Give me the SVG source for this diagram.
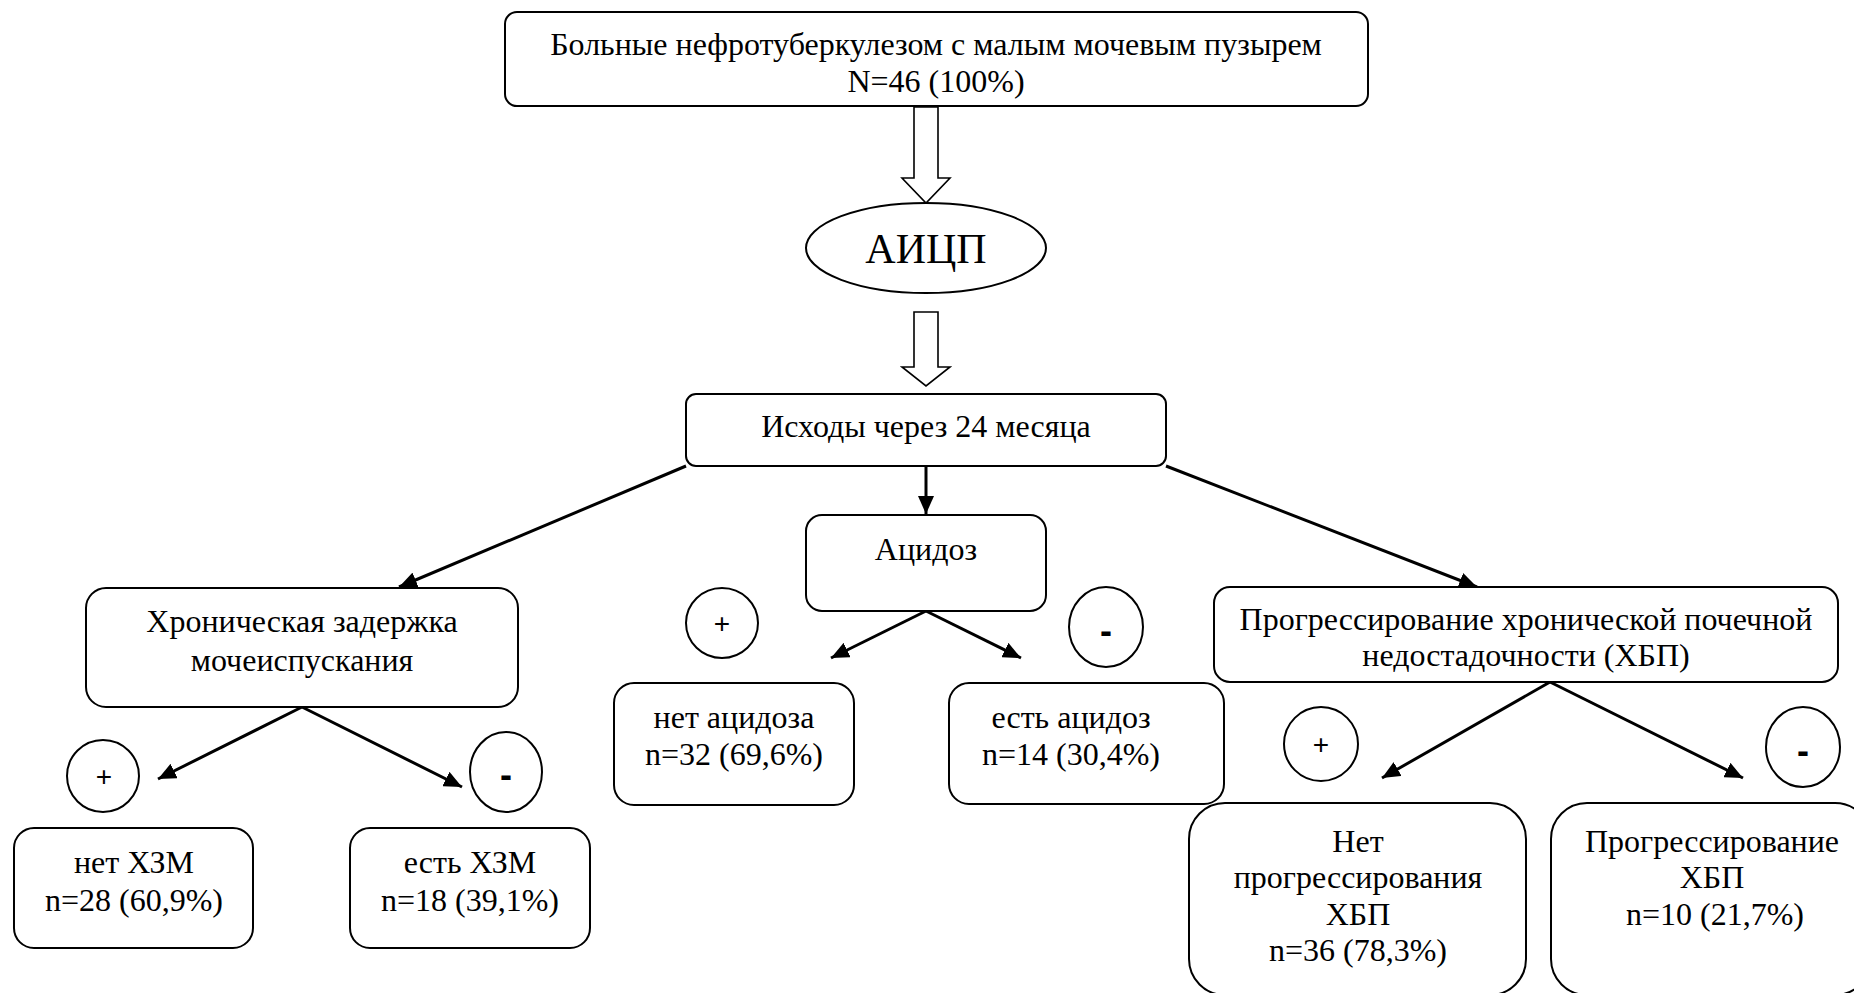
<svg xmlns="http://www.w3.org/2000/svg" width="1854" height="993" viewBox="0 0 1854 993">
<style>
.box{fill:#fff;stroke:#000;stroke-width:2}
.t{font-size:32px;fill:#000;text-anchor:middle}
.big{font-size:42px}
.sign{font-size:28px;fill:#000;text-anchor:middle}
.minus{font-weight:bold;font-size:36px}
.conn{stroke:#000;stroke-width:3;fill:none;marker-end:url(#ah)}
.hollow{fill:#fff;stroke:#000;stroke-width:1.6;stroke-linejoin:miter}
</style>
<defs>
<marker id="ah" markerUnits="userSpaceOnUse" markerWidth="20" markerHeight="16" viewBox="0 0 20 16" refX="18" refY="8" orient="auto">
<path d="M0,0 L18,8 L0,16 z" fill="#000"/>
</marker>
</defs>
<rect width="1854" height="993" fill="#fff"/>

<g id="connectors">
<polygon class="hollow" points="914,107 938,107 938,178 950,178 926,203 902,178 914,178"/>
<polygon class="hollow" points="914,312 938,312 938,367 950,367 926,386 902,367 914,367"/>
<line class="conn" x1="686" y1="466" x2="399" y2="587"/>
<line class="conn" x1="926" y1="466" x2="926" y2="514"/>
<line class="conn" x1="1166" y1="466" x2="1477" y2="587"/>
<line class="conn" x1="926" y1="611" x2="831" y2="658"/>
<line class="conn" x1="926" y1="611" x2="1021" y2="658"/>
<line class="conn" x1="302" y1="707" x2="158" y2="779"/>
<line class="conn" x1="302" y1="707" x2="462" y2="787"/>
<line class="conn" x1="1550" y1="682" x2="1382" y2="778"/>
<line class="conn" x1="1550" y1="682" x2="1743" y2="778"/>
</g>

<g id="nodes" font-family="Liberation Serif, Times New Roman, serif">
<g id="n-top">
<rect class="box" x="505" y="12" width="863" height="94" rx="12"/>
<text class="t" x="936" y="55">Больные нефротуберкулезом с малым мочевым пузырем</text>
<text class="t" x="936" y="92">N=46 (100%)</text>
</g>

<g id="n-aicp">
<ellipse class="box" cx="926" cy="248" rx="120" ry="45"/>
<text class="t big" x="926" y="263">АИЦП</text>
</g>

<g id="n-outcomes">
<rect class="box" x="686" y="394" width="480" height="72" rx="10"/>
<text class="t" x="926" y="437">Исходы через 24 месяца</text>
</g>

<g id="n-hzm">
<rect class="box" x="86" y="588" width="432" height="119" rx="20"/>
<text class="t" x="302" y="632">Хроническая задержка</text>
<text class="t" x="302" y="671">мочеиспускания</text>
</g>

<g id="n-acidosis">
<rect class="box" x="806" y="515" width="240" height="96" rx="16"/>
<text class="t" x="926" y="560">Ацидоз</text>
</g>

<g id="n-hbp">
<rect class="box" x="1214" y="587" width="624" height="95" rx="16"/>
<text class="t" x="1526" y="630">Прогрессирование хронической почечной</text>
<text class="t" x="1526" y="666">недостадочности (ХБП)</text>
</g>

<g id="n-no-hzm">
<rect class="box" x="14" y="828" width="239" height="120" rx="20"/>
<text class="t" x="134" y="873">нет ХЗМ</text>
<text class="t" x="134" y="911">n=28 (60,9%)</text>
</g>
<g id="n-yes-hzm">
<rect class="box" x="350" y="828" width="240" height="120" rx="20"/>
<text class="t" x="470" y="873">есть ХЗМ</text>
<text class="t" x="470" y="911">n=18 (39,1%)</text>
</g>
<g id="n-no-ac">
<rect class="box" x="614" y="683" width="240" height="122" rx="20"/>
<text class="t" x="734" y="728">нет ацидоза</text>
<text class="t" x="734" y="765">n=32 (69,6%)</text>
</g>
<g id="n-yes-ac">
<rect class="box" x="949" y="683" width="275" height="121" rx="20"/>
<text class="t" x="1071" y="728">есть ацидоз</text>
<text class="t" x="1071" y="765">n=14 (30,4%)</text>
</g>
<g id="n-no-prog">
<rect class="box" x="1189" y="803" width="337" height="192" rx="36"/>
<text class="t" x="1358" y="852">Нет</text>
<text class="t" x="1358" y="888">прогрессирования</text>
<text class="t" x="1358" y="925">ХБП</text>
<text class="t" x="1358" y="961">n=36 (78,3%)</text>
</g>
<g id="n-prog">
<rect class="box" x="1551" y="803" width="320" height="192" rx="36"/>
<text class="t" x="1712" y="852">Прогрессирование</text>
<text class="t" x="1712" y="888">ХБП</text>
<text class="t" x="1715" y="925">n=10 (21,7%)</text>
</g>
</g>

<g id="signs" font-family="Liberation Sans, Arial, sans-serif">
<g id="s-hzm-plus">
<ellipse class="box" cx="103" cy="776" rx="36" ry="36"/>
<text class="sign" x="104" y="786">+</text>
</g>
<g id="s-hzm-minus">
<ellipse class="box" cx="506" cy="772" rx="36" ry="40"/>
<text class="sign minus" x="506" y="787">-</text>
</g>
<g id="s-ac-plus">
<ellipse class="box" cx="722" cy="623" rx="36" ry="35"/>
<text class="sign" x="722" y="633">+</text>
</g>
<g id="s-ac-minus">
<ellipse class="box" cx="1106" cy="627" rx="37" ry="40"/>
<text class="sign minus" x="1106" y="643">-</text>
</g>
<g id="s-hbp-plus">
<ellipse class="box" cx="1321" cy="744" rx="37" ry="37"/>
<text class="sign" x="1321" y="754">+</text>
</g>
<g id="s-hbp-minus">
<ellipse class="box" cx="1803" cy="747" rx="37" ry="40"/>
<text class="sign minus" x="1803" y="763">-</text>
</g>
</g>
</svg>
